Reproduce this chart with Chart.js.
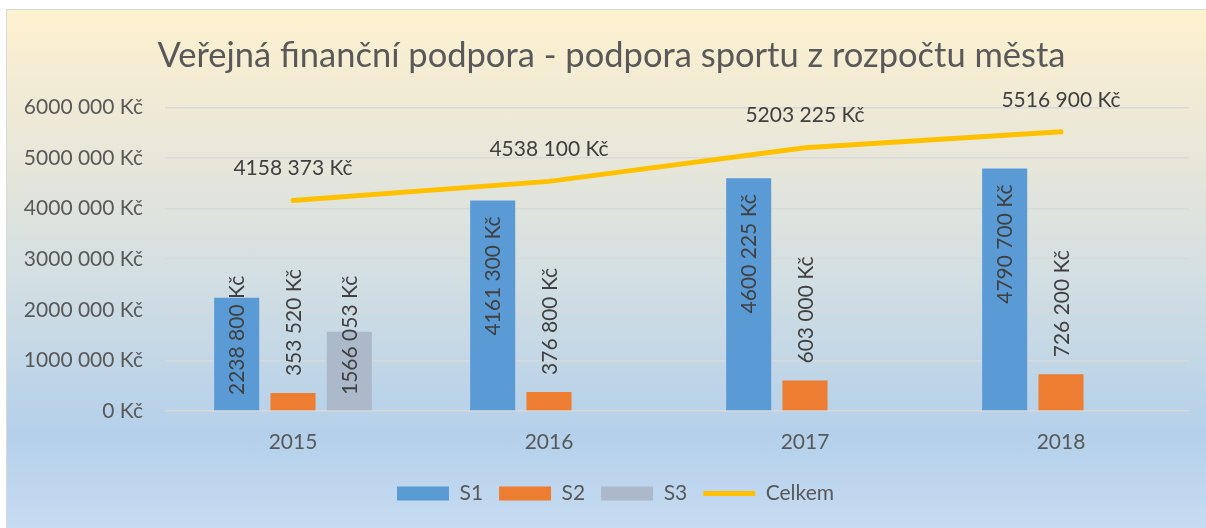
<!DOCTYPE html>
<html>
<head>
<meta charset="utf-8">
<script src="https://cdn.jsdelivr.net/npm/chart.js@4/dist/chart.umd.min.js"></script>
<style>
  html, body { margin: 0; padding: 0; background: #fff; }
  #wrap {
    position: absolute; left: 6px; top: 9px; width: 1210px; height: 530px;
    border: 1px solid #d9d9d9;
    background: linear-gradient(#fef1cf 0%, #e6e6da 30%, #d3dfe2 50%, #b4d0ea 80%, #c8ddf2 100%);
  }
  canvas { position: absolute; left: 0; top: 0; }
</style>
</head>
<body>
<div id="wrap"></div>
<canvas id="chart" width="1206" height="528"></canvas>
<script>
const years = ['2015', '2016', '2017', '2018'];
const s1 = [2238800, 4161300, 4600225, 4790700];
const s2 = [353520, 376800, 603000, 726200];
const s3 = [1566053, null, null, null];
const celkem = [4158373, 4538100, 5203225, 5516900];
const yTicks = [0, 1000000, 2000000, 3000000, 4000000, 5000000, 6000000];

const FONT = 'Lato, "Open Sans", sans-serif';

function kc(v) {
  if (v < 1000) return v + ' Kč';
  const rest = String(v % 1000).padStart(3, '0');
  return Math.floor(v / 1000) + ' ' + rest + ' Kč';
}

// data labels: line values above points, bar values rotated
const labelPlugin = {
  id: 'labels',
  afterLayout(chart) {
    // title and legend sit a bit right of the canvas centre
    if (chart.titleBlock) {
      chart.titleBlock.left += 17;
      chart.titleBlock.right += 17;
    }
    if (chart.legend) {
      chart.legend.left += 21;
      chart.legend.right += 21;
    }
  },
  afterDatasetsDraw(chart) {
    const ctx = chart.ctx;
    const base = chart.scales.y.getPixelForValue(0);
    ctx.save();
    ctx.fillStyle = '#404040';
    ctx.font = '21px ' + FONT;
    chart.data.datasets.forEach((ds, i) => {
      const meta = chart.getDatasetMeta(i);
      meta.data.forEach((el, j) => {
        const v = ds.data[j];
        if (v == null) return;
        const txt = kc(v);
        if (ds.type === 'line') {
          ctx.textAlign = 'center';
          ctx.textBaseline = 'middle';
          ctx.fillText(txt, el.x, el.y - 32);
          return;
        }
        const w = ctx.measureText(txt).width;
        let bottom;
        if (ds.labelPos === 'outside') {
          bottom = el.y - 17;
        } else {
          bottom = Math.min(el.y + 16 + w, base - 16);
        }
        ctx.save();
        ctx.translate(el.x, bottom);
        ctx.rotate(-Math.PI / 2);
        ctx.textAlign = 'left';
        ctx.textBaseline = 'middle';
        ctx.fillText(txt, 0, 1);
        ctx.restore();
      });
    });
    ctx.restore();
  }
};

new Chart(document.getElementById('chart'), {
  data: {
    labels: years,
    datasets: [
      { type: 'bar', label: 'S1', data: s1, backgroundColor: '#5b9bd5', labelPos: 'inside', order: 2 },
      { type: 'bar', label: 'S2', data: s2, backgroundColor: '#ed7d31', labelPos: 'outside', order: 2 },
      { type: 'bar', label: 'S3', data: s3, backgroundColor: '#acb9ca', labelPos: 'inside', order: 2 },
      { type: 'line', label: 'Celkem', data: celkem, borderColor: '#ffc000', backgroundColor: '#ffc000',
        borderWidth: 5, pointRadius: 0, borderCapStyle: 'round', order: 1 }
    ]
  },
  options: {
    responsive: false,
    animation: false,
    layout: { padding: { left: 0, right: 17, top: 12, bottom: 14 } },
    datasets: { bar: { categoryPercentage: 0.66, barPercentage: 0.8 } },
    plugins: {
      title: {
        display: true,
        text: 'Veřejná finanční podpora - podpora sportu z rozpočtu města',
        color: '#595959',
        font: { family: FONT, size: 34.5, weight: 'normal' },
        padding: { top: 23, bottom: 31 }
      },
      legend: {
        position: 'bottom',
        labels: {
          color: '#595959',
          font: { family: FONT, size: 21 },
          usePointStyle: true,
          pointStyleWidth: 52,
          boxHeight: 14,
          padding: 16,
          generateLabels(chart) {
            const items = Chart.defaults.plugins.legend.labels.generateLabels(chart);
            items.forEach(it => {
              const ds = chart.data.datasets[it.datasetIndex];
              it.pointStyle = ds.type === 'line' ? 'line' : 'rect';
              if (ds.type === 'line') { it.lineWidth = 5; it.strokeStyle = '#ffc000'; }
              else { it.lineWidth = 0; }
            });
            return items.sort((a, b) => a.datasetIndex - b.datasetIndex);
          }
        }
      },
      tooltip: { enabled: false }
    },
    scales: {
      x: {
        afterFit(scale) { scale.height = 56; },
        grid: { display: false, drawTicks: false },
        border: { display: false },
        ticks: { color: '#595959', font: { family: FONT, size: 21 }, padding: 19 }
      },
      y: {
        min: 0,
        max: 6000000,
        afterFit(scale) { scale.width = 165; },
        afterBuildTicks(scale) { scale.ticks = yTicks.map(v => ({ value: v })); },
        grid: { color: '#d9d9d9', lineWidth: 1.5, drawTicks: false },
        border: { display: false },
        ticks: {
          color: '#595959',
          font: { family: FONT, size: 21 },
          padding: 22,
          callback: v => kc(v)
        }
      }
    }
  },
  plugins: [labelPlugin]
});
</script>
</body>
</html>
